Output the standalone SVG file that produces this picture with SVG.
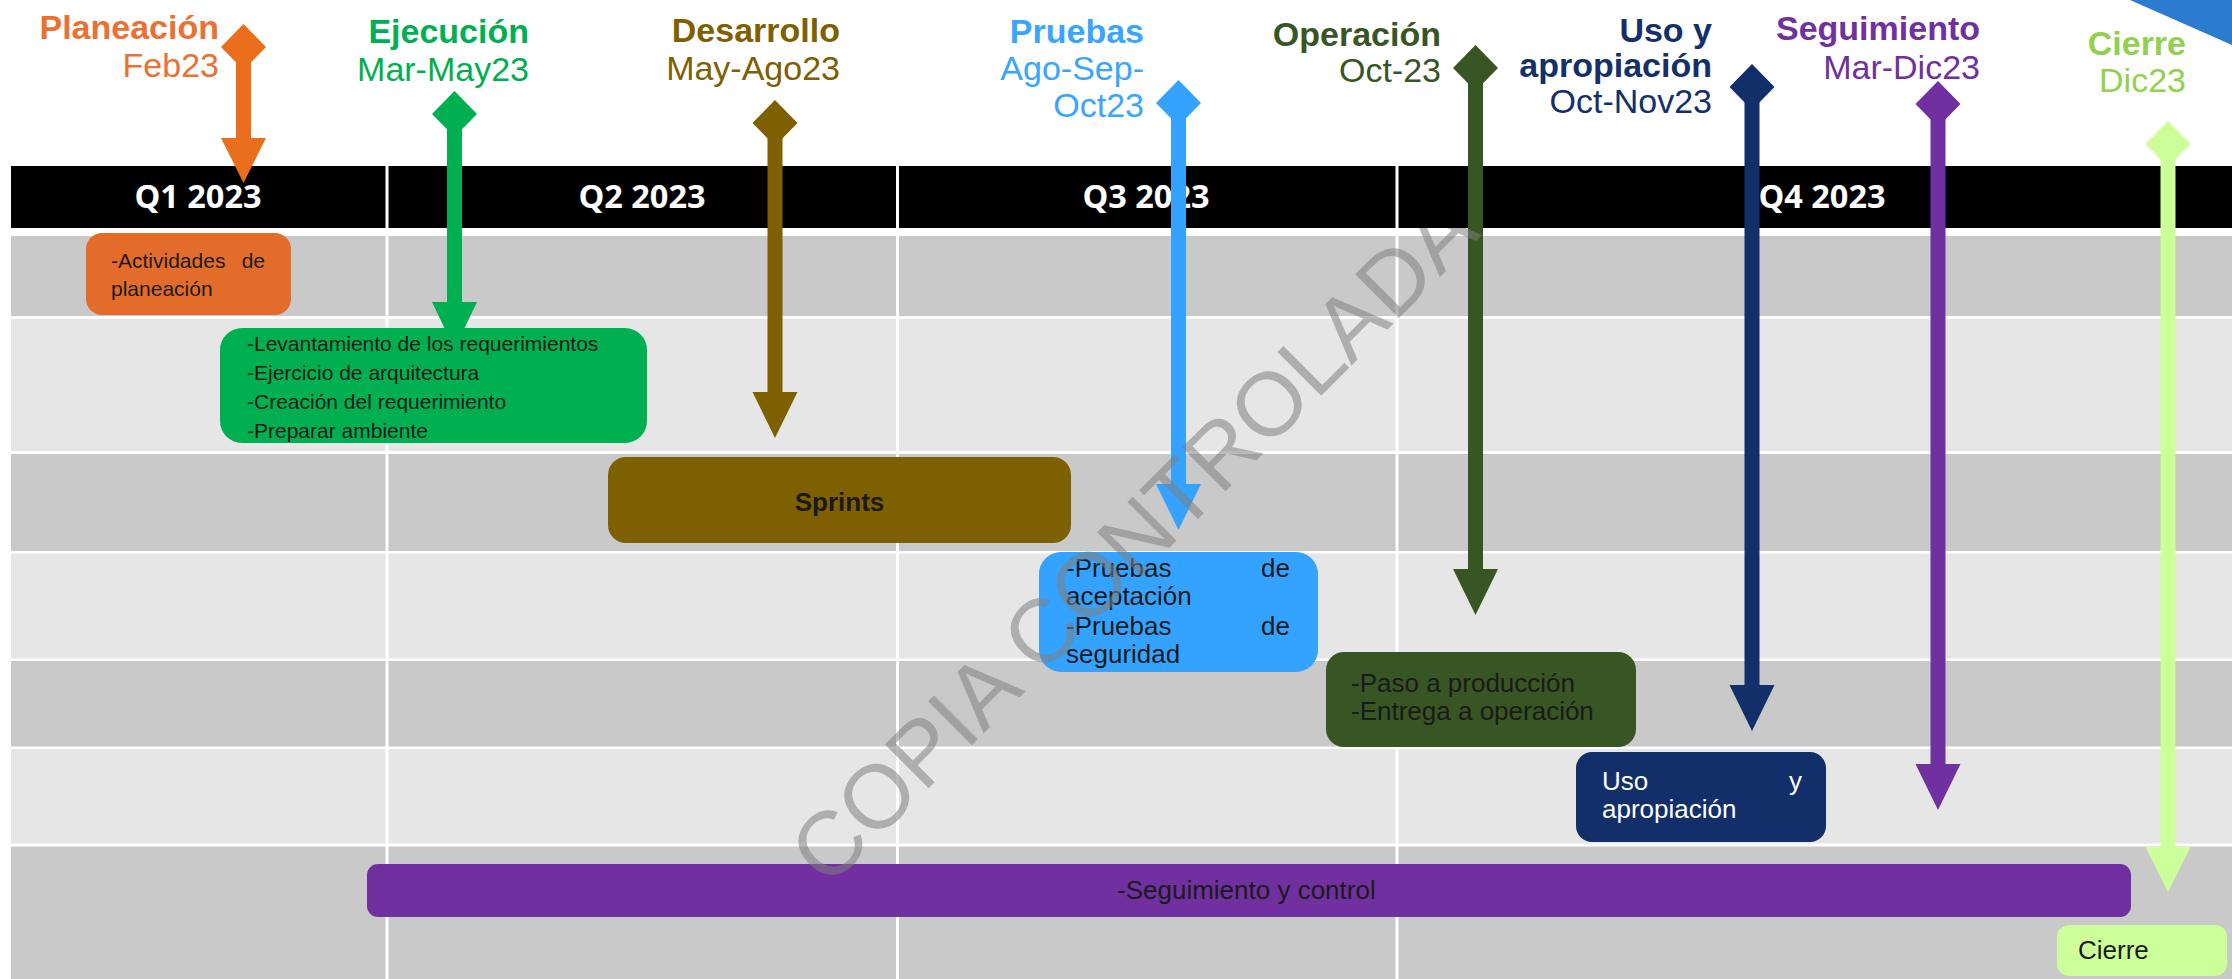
<svg xmlns="http://www.w3.org/2000/svg" width="2232" height="979" viewBox="0 0 2232 979">
<style>
.lbl{font-family:"Liberation Sans",Arial,sans-serif;font-size:34px;text-anchor:end}
.b{font-weight:700}
.q{font-family:"Open Sans","Liberation Sans",sans-serif;font-weight:700;font-size:32.5px;fill:#fff;text-anchor:middle}
.t{font-family:"Liberation Sans",Arial,sans-serif;font-size:26px;fill:#1a1a1a}
.s21{font-size:21px}
.end{text-anchor:end}
.mid{text-anchor:middle}
.dark{fill:#C9C9C9}
.light{fill:#E6E6E6}
.div{fill:#fff}
.wm{font-family:"Liberation Sans",Arial,sans-serif;font-size:90px;fill:#808080;fill-opacity:0.55}
</style>
<defs>
<clipPath id="belowHeader"><rect x="0" y="228" width="2232" height="751"/></clipPath>
</defs>
<rect x="0" y="0" width="2232" height="979" fill="#fff"/>
<g id="grid">
<rect class="dark" x="11" y="236" width="2221" height="80"/>
<rect class="light" x="11" y="319" width="2221" height="132"/>
<rect class="dark" x="11" y="454" width="2221" height="97"/>
<rect class="light" x="11" y="553.5" width="2221" height="105"/>
<rect class="dark" x="11" y="661" width="2221" height="85.5"/>
<rect class="light" x="11" y="749" width="2221" height="94.5"/>
<rect class="dark" x="11" y="846.5" width="2221" height="132.5"/>
<rect x="11" y="166" width="2221" height="62" fill="#000"/>
<rect class="div" x="385.5" y="166" width="3" height="813"/>
<rect class="div" x="896" y="166" width="3" height="813"/>
<rect class="div" x="1395.5" y="166" width="3" height="813"/>
<text class="q" x="198" y="208">Q1 2023</text>
<text class="q" x="642" y="208">Q2 2023</text>
<text class="q" x="1146" y="208">Q3 2023</text>
<text class="q" x="1822" y="208">Q4 2023</text>
</g>
<g id="box-planeacion">
<rect x="86" y="233" width="205" height="82" rx="16" fill="#E36C2A"/>
<text class="t s21" x="111" y="268">-Actividades</text>
<text class="t s21 end" x="265" y="268">de</text>
<text class="t s21" x="111" y="296">planeación</text>
</g>
<g id="box-ejecucion">
<rect x="220" y="328" width="427" height="115" rx="22" fill="#00B050"/>
<text class="t s21" x="247" y="350.5">-Levantamiento de los requerimientos</text>
<text class="t s21" x="247" y="379.7">-Ejercicio de arquitectura</text>
<text class="t s21" x="247" y="408.9">-Creación del requerimiento</text>
<text class="t s21" x="247" y="438">-Preparar ambiente</text>
</g>
<g id="box-sprints">
<rect x="608" y="457" width="463" height="86" rx="18" fill="#7F6000"/>
<text class="t b mid" x="839.5" y="511">Sprints</text>
</g>
<g id="box-pruebas">
<rect x="1039" y="552" width="279" height="120" rx="22" fill="#33A3FF"/>
<text class="t" x="1066" y="577">-Pruebas</text>
<text class="t end" x="1290" y="577">de</text>
<text class="t" x="1066" y="605">aceptación</text>
<text class="t" x="1066" y="635">-Pruebas</text>
<text class="t end" x="1290" y="635">de</text>
<text class="t" x="1066" y="663">seguridad</text>
</g>
<g id="box-operacion">
<rect x="1326" y="652" width="310" height="95" rx="18" fill="#375623"/>
<text class="t" x="1351" y="692">-Paso a producción</text>
<text class="t" x="1351" y="720">-Entrega a operación</text>
</g>
<g id="box-uso">
<rect x="1576" y="752" width="250" height="90" rx="16" fill="#122F6A"/>
<text class="t" x="1602" y="790" style="fill:#fff">Uso</text>
<text class="t end" x="1802" y="790" style="fill:#fff">y</text>
<text class="t" x="1602" y="818" style="fill:#fff">apropiación</text>
</g>
<g id="box-seguimiento">
<rect x="367" y="864" width="1764" height="53" rx="11" fill="#7030A0"/>
<text class="t" x="1117" y="899">-Seguimiento y control</text>
</g>
<g id="box-cierre">
<rect x="2057" y="925" width="170" height="51" rx="12" fill="#CCFF99"/>
<text class="t" x="2078" y="959">Cierre</text>
</g>
<g id="connectors">
<g fill="#EA6E1B"><polygon points="243.5,24 266,47 243.5,70 221,47"/><rect x="236" y="47" width="15" height="92"/><polygon points="221,138 266,138 243.5,183"/></g>
<g fill="#00B050"><polygon points="454.5,91 477,114 454.5,137 432,114"/><rect x="447" y="114" width="15" height="189"/><polygon points="432,302 477,302 454.5,349"/></g>
<g fill="#7F6000"><polygon points="775,100 797.5,123 775,146 752.5,123"/><rect x="767.5" y="123" width="15" height="270"/><polygon points="752.5,392 797.5,392 775,438"/></g>
<g fill="#33A3FF"><polygon points="1178.5,80 1201,103 1178.5,126 1156,103"/><rect x="1171" y="103" width="15" height="382"/><polygon points="1156,484 1201,484 1178.5,530"/></g>
<g fill="#375623"><polygon points="1475.5,45 1498,68 1475.5,91 1453,68"/><rect x="1468" y="68" width="15" height="502"/><polygon points="1453,569 1498,569 1475.5,615"/></g>
<g fill="#122F6A"><polygon points="1752,64 1774.5,87 1752,110 1729.5,87"/><rect x="1744.5" y="87" width="15" height="599"/><polygon points="1729.5,685 1774.5,685 1752,731"/></g>
<g fill="#7030A0"><polygon points="1938,81 1960.5,104 1938,127 1915.5,104"/><rect x="1930.5" y="104" width="15" height="661"/><polygon points="1915.5,764 1960.5,764 1938,810"/></g>
<g fill="#CCFF99"><polygon points="2168,121 2190.5,144 2168,167 2145.5,144"/><rect x="2160.5" y="144" width="15" height="704"/><polygon points="2145.5,847 2190.5,847 2168,892"/></g>
</g>
<g id="label-planeacion" fill="#EA7131">
<text class="lbl b" x="219" y="39">Planeación</text>
<text class="lbl" x="219" y="77">Feb23</text>
</g>
<g id="label-ejecucion" fill="#00B050">
<text class="lbl b" x="529" y="43">Ejecución</text>
<text class="lbl" x="529" y="81">Mar-May23</text>
</g>
<g id="label-desarrollo" fill="#7F6000">
<text class="lbl b" x="840" y="42">Desarrollo</text>
<text class="lbl" x="840" y="80">May-Ago23</text>
</g>
<g id="label-pruebas" fill="#3AA5FF">
<text class="lbl b" x="1144" y="43">Pruebas</text>
<text class="lbl" x="1144" y="80">Ago-Sep-</text>
<text class="lbl" x="1144" y="117">Oct23</text>
</g>
<g id="label-operacion" fill="#375623">
<text class="lbl b" x="1441" y="46">Operación</text>
<text class="lbl" x="1441" y="82">Oct-23</text>
</g>
<g id="label-uso" fill="#13306B">
<text class="lbl b" x="1712" y="42">Uso y</text>
<text class="lbl b" x="1712" y="77">apropiación</text>
<text class="lbl" x="1712" y="113">Oct-Nov23</text>
</g>
<g id="label-seguimiento" fill="#7030A0">
<text class="lbl b" x="1980" y="40">Seguimiento</text>
<text class="lbl" x="1980" y="79">Mar-Dic23</text>
</g>
<g id="label-cierre" fill="#92D050">
<text class="lbl b" x="2186" y="55">Cierre</text>
<text class="lbl" x="2186" y="92">Dic23</text>
</g>
<g id="watermark" clip-path="url(#belowHeader)">
<text class="wm" x="828" y="889" transform="rotate(-45 828 889)">COPIA CONTROLADA</text>
</g>
<polygon id="corner" points="2130,0 2232,0 2232,45" fill="#2B7BD0"/>
</svg>
